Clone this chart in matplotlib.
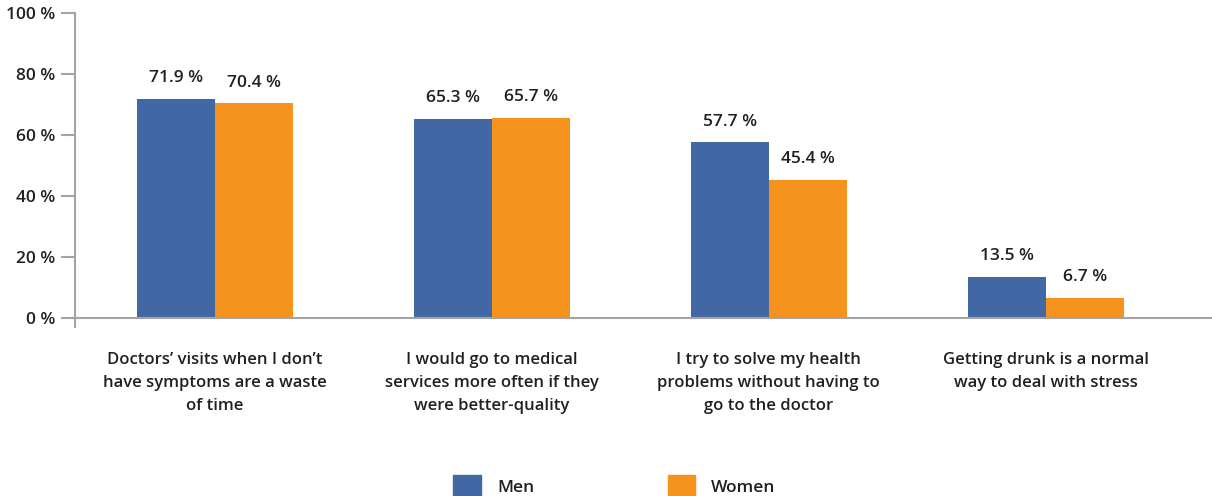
import numpy as np
import matplotlib.pyplot as plt
from matplotlib.patches import Patch

# Survey answers by gender, share agreeing (%)
categories = [
    "Doctors\u2019 visits when I don\u2019t\nhave symptoms are a waste\nof time",
    "I would go to medical\nservices more often if they\nwere better-quality",
    "I try to solve my health\nproblems without having to\ngo to the doctor",
    "Getting drunk is a normal\nway to deal with stress",
]
men = [71.9, 65.3, 57.7, 13.5]
women = [70.4, 65.7, 45.4, 6.7]
yticks = [0, 20, 40, 60, 80, 100]

MEN_COLOR = "#4167a5"
WOMEN_COLOR = "#f6921e"
TEXT_COLOR = "#231f20"
AXIS_COLOR = "#a3a3a3"
FS = 12

plt.rcParams["font.family"] = ["Open Sans", "DejaVu Sans"]
plt.rcParams["font.weight"] = "semibold"

fig = plt.figure(figsize=(12.12, 4.96), dpi=100)
ax = fig.add_axes([75 / 1212, 178 / 496, 1 - 75 / 1212, 305 / 496])

x = np.arange(len(categories))
width = 0.282

bars_m = ax.bar(x - width / 2, men, width, color=MEN_COLOR, label="Men")
bars_w = ax.bar(x + width / 2, women, width, color=WOMEN_COLOR, label="Women")

for bars, vals in ((bars_m, men), (bars_w, women)):
    for b, v in zip(bars, vals):
        ax.annotate(f"{v:.1f} %", (b.get_x() + b.get_width() / 2, v),
                    xytext=(0, 9), textcoords="offset points",
                    ha="center", va="bottom", fontsize=FS + 0.5,
                    color=TEXT_COLOR)

ax.set_xlim(-0.505, 3.6)
ax.set_ylim(0, 100)
ax.set_yticks(yticks)
ax.set_yticklabels([f"{t} %" for t in yticks], fontsize=FS + 0.5,
                   color=TEXT_COLOR)
ax.tick_params(axis="y", length=10, width=1.5, color=AXIS_COLOR, pad=4)
ax.set_xticks([])

for side in ("top", "right"):
    ax.spines[side].set_visible(False)
for side in ("left", "bottom"):
    ax.spines[side].set_color(AXIS_COLOR)
    ax.spines[side].set_linewidth(1.5)
ax.spines["left"].set_bounds(-2.9, 100)

for xi, label in zip(x, categories):
    ax.text(xi, -11, label, ha="center", va="top", fontsize=FS,
            color=TEXT_COLOR, linespacing=1.6)

handles = [Patch(color=MEN_COLOR, label="Men"),
           Patch(color=WOMEN_COLOR, label="Women")]
fig.legend(handles=handles, loc="lower center", bbox_to_anchor=(0.507, -0.035),
           ncol=2, frameon=False, fontsize=FS + 0.5, handlelength=1.6,
           handleheight=1.6, handletextpad=0.9, columnspacing=7.7,
           labelcolor=TEXT_COLOR)

fig.savefig("out.png", dpi=100)
